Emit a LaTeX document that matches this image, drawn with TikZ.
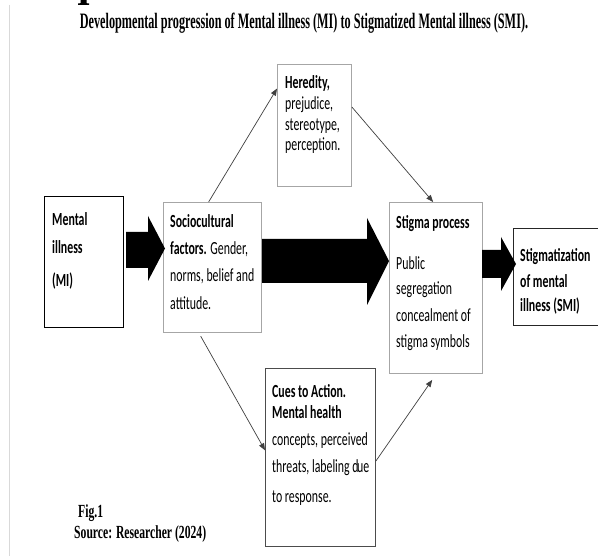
\documentclass[tikz,border=0pt]{standalone}
\usepackage{fontspec}
\setmainfont{Liberation Serif}
\newfontfamily\boxfont[FakeStretch=0.64]{Carlito}
\newfontfamily\titlefont[FakeStretch=0.555]{Liberation Serif}
\newfontfamily\srcfont[FakeStretch=0.63]{Liberation Serif}
\usetikzlibrary{arrows.meta,calc}
\tikzset{
  box/.style={draw=black, line width=0.9pt, inner sep=0pt, anchor=north west},
  graybox/.style={box, draw=gray!70},
  txt/.style={anchor=base west, inner sep=0pt, font=\boxfont\fontsize{18.5}{20}\selectfont},
  btxt/.style={anchor=base west, inner sep=0pt, font=\boxfont\bfseries\fontsize{18.5}{20}\selectfont},
  ttl/.style={inner sep=0pt, font=\titlefont\bfseries\fontsize{22}{24}\selectfont},
  src/.style={anchor=base west, inner sep=0pt, font=\srcfont\bfseries\fontsize{18.5}{20}\selectfont},
  thin/.style={draw=black!75, line width=0.7pt, -{Triangle[length=7pt,width=5.5pt]}},
  fat/.style={fill=black}
}
\begin{document}
\begin{tikzpicture}[x=1pt,y=-1pt]
\useasboundingbox (0,0) rectangle (598,556);
\fill[white] (0,0) rectangle (598,556);
\draw[gray!30, line width=0.8pt] (9,5) -- (9,556);

% fragment of a cut-off heading glyph at the top edge
\fill[black] (80.5,0) -- (86.5,0) -- (86.5,3.2) -- (89,3.4) -- (89,4.8) -- (78,4.8) -- (78,3.4) -- (80.5,3.2) -- cycle;
\node[ttl, anchor=base] (title) at (304,29) {Developmental progression of Mental illness (MI) to Stigmatized Mental illness (SMI).};

% boxes
\node[box, minimum width=79pt, minimum height=131pt] (mi) at (44,196) {};
\node[graybox, line width=1.2pt, minimum width=98pt, minimum height=130pt] (socio) at (163,202) {};
\node[graybox, minimum width=74pt, minimum height=122pt] (hered) at (277,64) {};
\node[graybox, minimum width=93pt, minimum height=171pt] (stigma) at (389,202) {};
\node[box, draw=black!85, minimum width=90pt, minimum height=97pt] (smi) at (513,228) {};
\node[box, draw=black!70, minimum width=110pt, minimum height=178pt] (cues) at (265,368) {};

% texts
\node[btxt] (mi1) at (52,226) {Mental};
\node[btxt] (mi2) at (52,254) {illness};
\node[btxt] (mi3) at (52,287) {(MI)};

\node[btxt] (so1) at (170,228) {Sociocultural};
\node[txt] (so2) at (170,255) {\textbf{factors.} Gender,};
\node[txt] (so3) at (170,282) {norms, belief and};
\node[txt] (so4) at (170,310) {attitude.};

\node[btxt] (he1) at (285,89) {Heredity,};
\node[txt] (he2) at (285,110) {prejudice,};
\node[txt] (he3) at (285,131) {stereotype,};
\node[txt] (he4) at (285,151) {perception.};

\node[btxt] (st1) at (396,229) {Stigma process};
\node[txt] (st2) at (396,270) {Public};
\node[txt] (st3) at (396,295) {segregation};
\node[txt] (st4) at (396,322) {concealment of};
\node[txt] (st5) at (396,348) {stigma symbols};

\node[btxt] (sm1) at (520,262) {Stigmatization};
\node[btxt] (sm2) at (520,288) {of mental};
\node[btxt] (sm3) at (520,312) {illness (SMI)};

\node[btxt] (cu1) at (272,398) {Cues to Action.};
\node[btxt] (cu2) at (272,419) {Mental health};
\node[txt] (cu3) at (272,446) {concepts, perceived};
\node[txt] (cu4) at (272,473) {threats, labeling d\kern-1.5pt ue};
\node[txt] (cu5) at (272,502) {to response.};

\node[src] (fig) at (78,518) {Fig.1};
\node[src] (source) at (74,538) {Source: Researcher (2024)};

% block arrows
\fill[fat] (126,232) -- (148,232) -- (148,216) -- (165,248.5) -- (148,281) -- (148,268) -- (126,268) -- cycle;
\fill[fat] (262,239) -- (367,239) -- (367,218) -- (389,261) -- (367,305) -- (367,283) -- (262,283) -- cycle;
\fill[fat] (482,250) -- (501,250) -- (501,237) -- (516,264) -- (501,291) -- (501,278) -- (482,278) -- cycle;

% thin arrows
\draw[thin] ($(socio.north west)!0.46!(socio.north east)$) -- ($(hered.north west)!0.2!(hered.south west)$);
\draw[thin] ($(hered.north east)!0.35!(hered.south east)$) -- ($(stigma.north west)!0.47!(stigma.north east)$);
\draw[thin] ($(socio.south west)!0.38!(socio.south east)+(0,3)$) -- ($(cues.north west)!0.46!(cues.south west)$);
\draw[thin] ($(cues.north east)!0.52!(cues.south east)$) -- ($(stigma.south west)!0.46!(stigma.south east)+(0,6)$);
\end{tikzpicture}
\end{document}
